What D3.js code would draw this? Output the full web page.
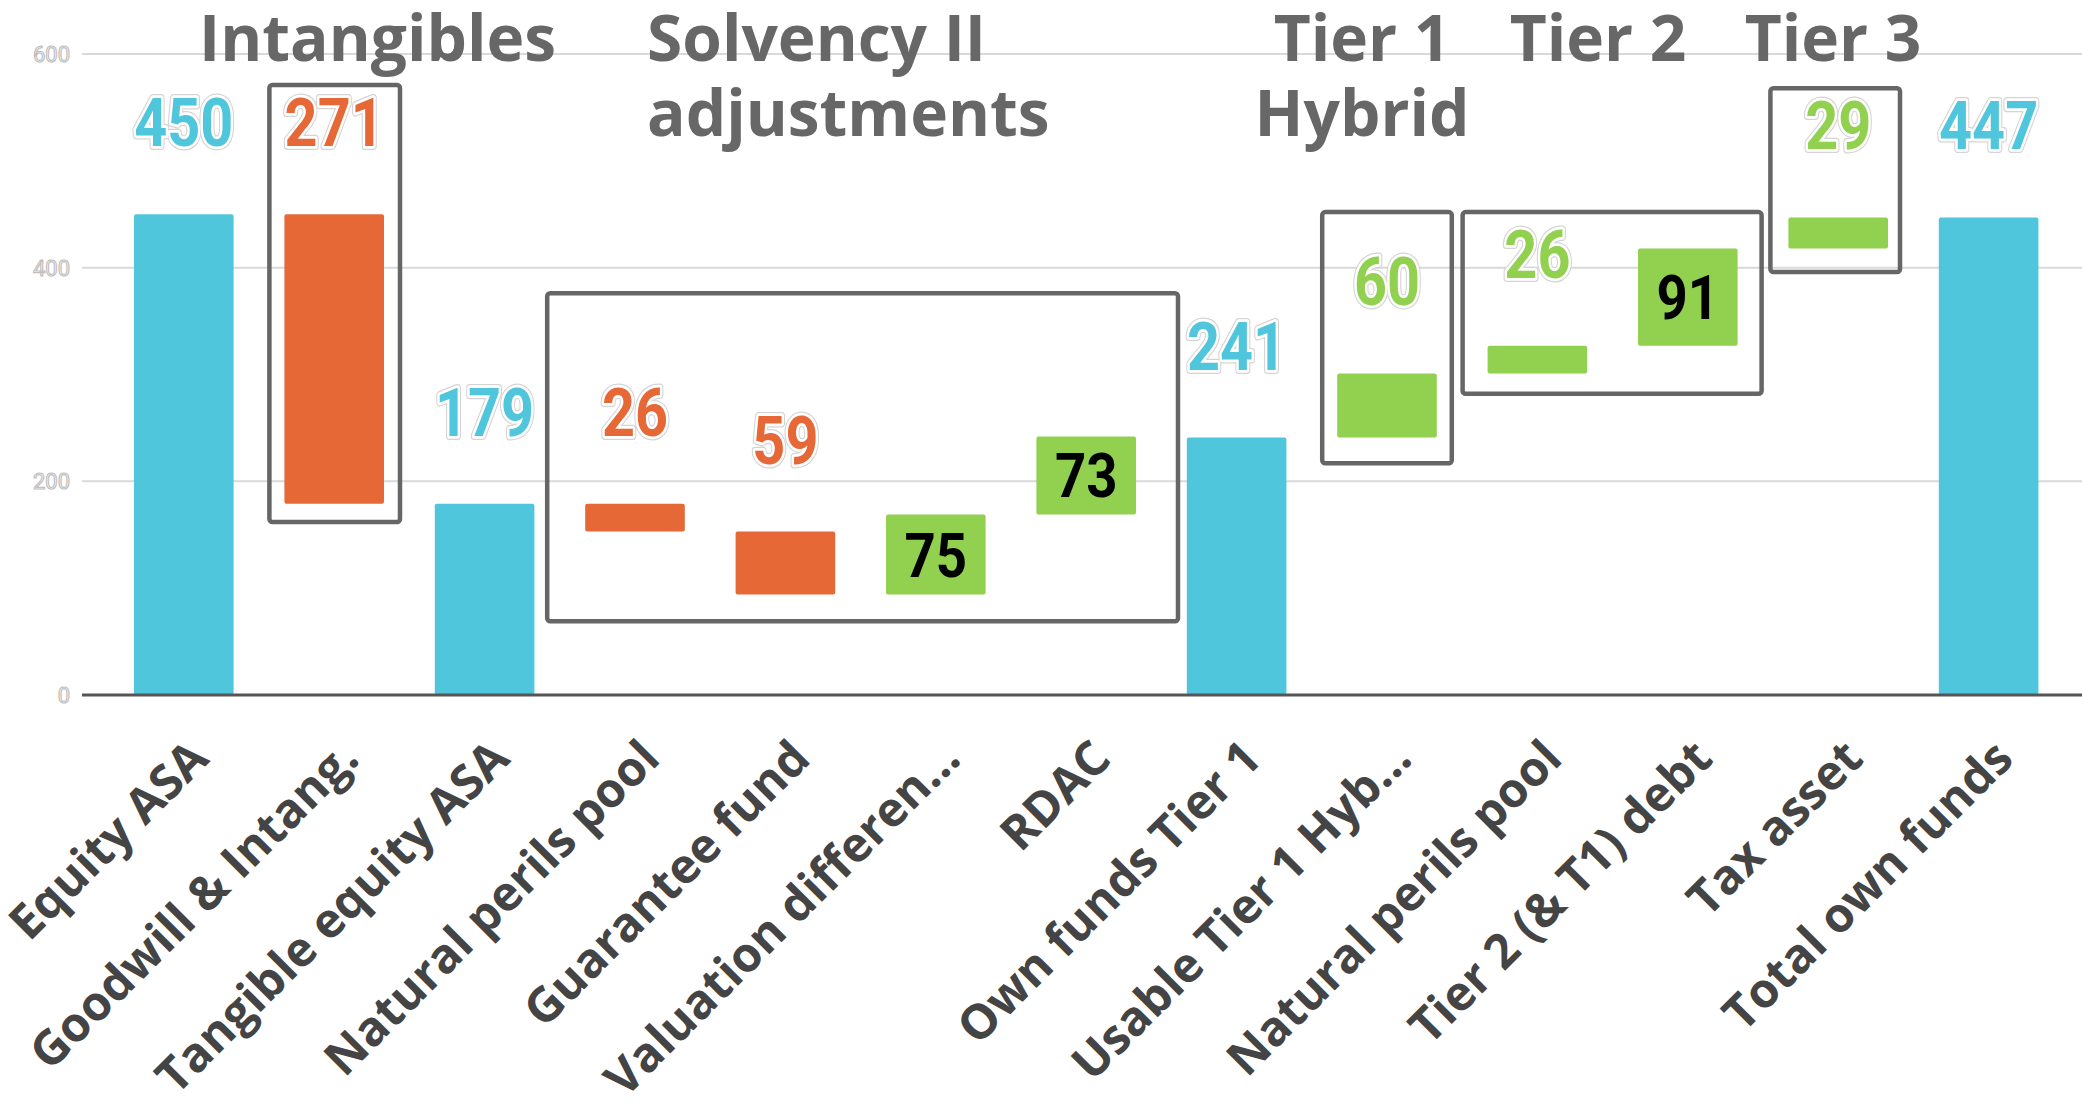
<!DOCTYPE html>
<html><head><meta charset="utf-8">
<script src="https://cdn.jsdelivr.net/npm/d3@7"></script>
<style>html,body{margin:0;padding:0;background:#fff;overflow:hidden}</style>
</head><body>
<svg id="chart" width="2082" height="1108"></svg>
<script>
// ---- data ----
const categories = ["Equity ASA","Goodwill & Intang.","Tangible equity ASA","Natural perils pool","Guarantee fund","Valuation differen...","RDAC","Own funds Tier 1","Usable Tier 1 Hyb...","Natural perils pool ","Tier 2 (& T1) debt","Tax asset","Total own funds"];
const values = [450, -271, 179, -26, -59, 75, 73, 241, 60, 26, 91, 29, 447];
const isTotal = [true,false,true,false,false,false,false,true,false,false,false,false,true];
const labelInside = [false,false,false,false,false,true,true,false,false,false,true,false,false];
const yTicks = [0, 200, 400, 600];
const groupTitles = [["Intangibles"],["Solvency II","adjustments"],["Tier 1","Hybrid"],["Tier 2"],["Tier 3"]];
const groupFirst = [1, 3, 8, 9, 11];
const groupLast = [1, 6, 8, 10, 11];
const groupTop = [571, 376, 452, 452, 568];
const groupBottom = [162, 69, 217, 282, 396];

// ---- layout ----
const W = 2082, H = 1108;
const COL = {total:"#4fc6db", neg:"#e66836", pos:"#92d050", box:"#666666", title:"#676767", axis:"#444444"};
const svg = d3.select("#chart");
const x = d3.scaleBand().domain(categories).range([82, 2090.4]).paddingInner(0.3378).paddingOuter(0.3457);
const y = d3.scaleLinear().domain([0, 600]).range([695, 54]);

// waterfall extents
let running = 0;
const rows = categories.map((c, i) => {
  let a, b;
  if (isTotal[i]) { a = 0; b = values[i]; running = values[i]; }
  else { a = running; b = running + values[i]; running = b; }
  return {cat:c, v:values[i], lo:Math.min(a,b), hi:Math.max(a,b), total:isTotal[i], inside:labelInside[i],
          color: isTotal[i] ? COL.total : (values[i] < 0 ? COL.neg : COL.pos)};
});

// gridlines
const grid = svg.append("g");
grid.selectAll("line").data(yTicks.filter(t => t > 0)).join("line")
  .attr("x1", 82).attr("x2", W).attr("y1", d => y(d)).attr("y2", d => y(d))
  .attr("stroke", "#d9d9d9").attr("stroke-width", 2);
// y tick labels
svg.append("g").selectAll("text").data(yTicks).join("text")
  .attr("x", 70).attr("y", d => y(d)).attr("dy", "0.36em").attr("text-anchor", "end")
  .attr("font-family", "Roboto").attr("font-size", 22)
  .attr("fill", "#fff").attr("stroke", "#c0c0c0").attr("stroke-width", 1.2)
  .text(d => d);

// boxes
const boxPadL = [15, 38, 15, 25, 18];
const boxPadR = [16, 42, 15, 24, 12];
svg.append("g").selectAll("rect").data(groupFirst.map((f, i) => i)).join("rect")
  .attr("x", i => x(categories[groupFirst[i]]) - boxPadL[i])
  .attr("y", i => y(groupTop[i]))
  .attr("width", i => x(categories[groupLast[i]]) + x.bandwidth() + boxPadR[i] - (x(categories[groupFirst[i]]) - boxPadL[i]))
  .attr("height", i => y(groupBottom[i]) - y(groupTop[i]))
  .attr("rx", 3).attr("fill", "none").attr("stroke", COL.box).attr("stroke-width", 4.5);

// bars
svg.append("g").selectAll("rect").data(rows).join("rect")
  .attr("x", d => x(d.cat)).attr("width", x.bandwidth())
  .attr("y", d => y(d.hi)).attr("height", d => y(d.lo) - y(d.hi))
  .attr("rx", 2).attr("fill", d => d.color);

// baseline
svg.append("line").attr("x1", 82).attr("x2", W).attr("y1", y(0)).attr("y2", y(0))
  .attr("stroke", "#555").attr("stroke-width", 3);

// value labels
const lab = svg.append("g");
const outside = rows.filter(d => !d.inside);
function placeOut(d){ return `translate(${x(d.cat) + x.bandwidth()/2},${y(d.hi) - 68}) scale(0.86,1)`; }
lab.selectAll("text.halo").data(outside).join("text").attr("class","halo")
  .attr("transform", placeOut).attr("text-anchor","middle")
  .attr("font-family","Roboto").attr("font-weight",700).attr("font-size",67)
  .attr("fill","none").attr("stroke","#d4d4d4").attr("stroke-width",8).attr("stroke-linejoin","round")
  .text(d => Math.abs(d.v));
lab.selectAll("text.val").data(outside).join("text").attr("class","val")
  .attr("transform", placeOut).attr("text-anchor","middle")
  .attr("font-family","Roboto").attr("font-weight",700).attr("font-size",67)
  .attr("fill", d => d.color).attr("stroke","#fff").attr("stroke-width",5.5).attr("stroke-linejoin","round")
  .attr("paint-order","stroke")
  .text(d => Math.abs(d.v));
lab.selectAll("text.in").data(rows.filter(d => d.inside)).join("text").attr("class","in")
  .attr("transform", d => `translate(${x(d.cat) + x.bandwidth()/2},${(y(d.hi)+y(d.lo))/2 + 22}) scale(0.88,1)`)
  .attr("text-anchor","middle")
  .attr("font-family","Roboto").attr("font-weight",700).attr("font-size",62)
  .attr("fill","#000")
  .text(d => Math.abs(d.v));

// group titles
const titleX = [199, 647, 1362, 1598, 1833];
const titleAnchor = ["start","start","middle","middle","middle"];
const tg = svg.append("g");
groupTitles.forEach((lines, i) => {
  lines.forEach((t, j) => {
    tg.append("text").attr("x", titleX[i]).attr("y", 61 + j*75)
      .attr("text-anchor", titleAnchor[i])
      .attr("font-family","Open Sans").attr("font-weight",700).attr("font-size",64)
      .attr("fill", COL.title).text(t);
  });
});

// x axis labels
svg.append("g").selectAll("text").data(categories).join("text")
  .attr("transform", d => `translate(${x(d) + x.bandwidth()/2 + 27},${y(0) + 66}) rotate(-45)`)
  .attr("text-anchor","end")
  .attr("font-family","Open Sans").attr("font-weight",700).attr("font-size",48)
  .attr("fill", COL.axis)
  .text(d => d.trim());
</script>
</body></html>
